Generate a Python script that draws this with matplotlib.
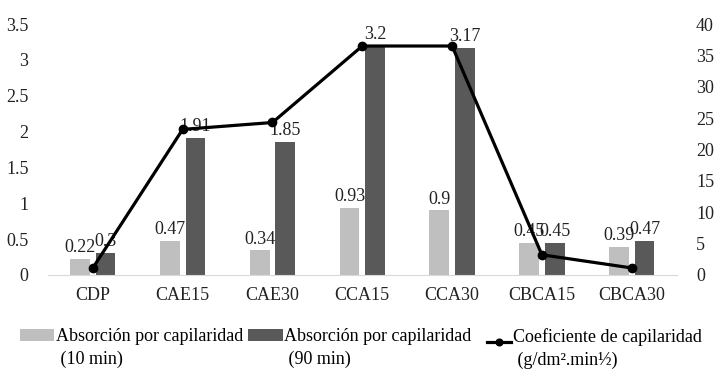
import matplotlib
matplotlib.use("Agg")
import matplotlib.pyplot as plt
from matplotlib.legend_handler import HandlerLine2D, HandlerPatch
import numpy as np

categories = ["CDP", "CAE15", "CAE30", "CCA15", "CCA30", "CBCA15", "CBCA30"]
abs_10 = [0.22, 0.47, 0.34, 0.93, 0.90, 0.45, 0.39]
abs_90 = [0.30, 1.91, 1.85, 3.20, 3.17, 0.45, 0.47]
coef = [1.1, 23.2, 24.3, 36.5, 36.5, 3.2, 1.1]
labels_10 = ["0.22", "0.47", "0.34", "0.93", "0.9", "0.45", "0.39"]
labels_90 = ["0.3", "1.91", "1.85", "3.2", "3.17", "0.45", "0.47"]
left_ticks = [0, 0.5, 1, 1.5, 2, 2.5, 3, 3.5]
left_ticklabels = ["0", "0.5", "1", "1.5", "2", "2.5", "3", "3.5"]
right_ticks = [0, 5, 10, 15, 20, 25, 30, 35, 40]
legend_labels = ["Absorción por capilaridad\n (10 min)",
                 "Absorción por capilaridad\n (90 min)",
                 "Coeficiente de capilaridad\n (g/dm².min½)"]

plt.rcParams['font.family'] = ['Liberation Serif', 'DejaVu Serif']

fig = plt.figure(figsize=(7.26, 3.76), dpi=100)
ax = fig.add_axes([0.066, 0.269, 0.866, 0.667])
ax2 = ax.twinx()

x = np.arange(len(categories))
w = 0.22
off = 0.142
c_light = "#BFBFBF"
c_dark = "#595959"
b1 = ax.bar(x - off, abs_10, w, color=c_light)
b2 = ax.bar(x + off, abs_90, w, color=c_dark)
ln, = ax2.plot(x, coef, color="black", lw=2.3, marker="o", ms=6)

fs = 13
for xi, v, t in zip(x - off, abs_10, labels_10):
    ax.text(xi, v + 0.04, t, ha="center", va="bottom", fontsize=fs, color="#222222")
for xi, v, t in zip(x + off, abs_90, labels_90):
    ax.text(xi, v + 0.04, t, ha="center", va="bottom", fontsize=fs, color="#222222")

ax.set_xlim(-0.5, len(categories) - 0.5)
ax.set_ylim(0, 3.5)
ax2.set_ylim(0, 40)
ax.set_yticks(left_ticks)
ax.set_yticklabels(left_ticklabels)
ax2.set_yticks(right_ticks)
ax.set_xticks(x)
ax.set_xticklabels(categories)

for a in (ax, ax2):
    for s in ["top", "left", "right", "bottom"]:
        a.spines[s].set_visible(False)
ax.spines["bottom"].set_visible(True)
ax.spines["bottom"].set_color("#D9D9D9")
ax.tick_params(axis="both", length=0, labelsize=fs, colors="#222222")
ax.tick_params(axis="x", pad=9)
ax.tick_params(axis="y", pad=14)
ax2.tick_params(axis="y", length=0, labelsize=fs, colors="#222222", pad=14)

LIFT = 0.75  # in units of fontsize: move handles up to first text line


class ShortLine(HandlerLine2D):
    def create_artists(self, legend, orig_handle, xdescent, ydescent, width,
                       height, fontsize, trans):
        nw = width * 0.7
        return super().create_artists(legend, orig_handle, xdescent - (width - nw),
                                      ydescent - LIFT * fontsize, nw, height,
                                      fontsize, trans)


class UpPatch(HandlerPatch):
    def create_artists(self, legend, orig_handle, xdescent, ydescent, width,
                       height, fontsize, trans):
        return super().create_artists(legend, orig_handle, xdescent,
                                      ydescent - LIFT * fontsize, width, height,
                                      fontsize, trans)


h1, h2 = b1.patches[0], b2.patches[0]
leg = fig.legend(handles=[h1, h2, ln], labels=legend_labels, loc="lower left",
                 bbox_to_anchor=(0.012, -0.01),
                 ncol=3, frameon=False, fontsize=fs, handlelength=1.9, handleheight=0.6,
                 handletextpad=0.1, columnspacing=0.3, borderaxespad=0.2,
                 markerscale=0.8,
                 handler_map={ln: ShortLine(), h1: UpPatch(), h2: UpPatch()})
for t in leg.get_texts():
    t.set_linespacing(1.45)

fig.savefig("out.png", dpi=100)
